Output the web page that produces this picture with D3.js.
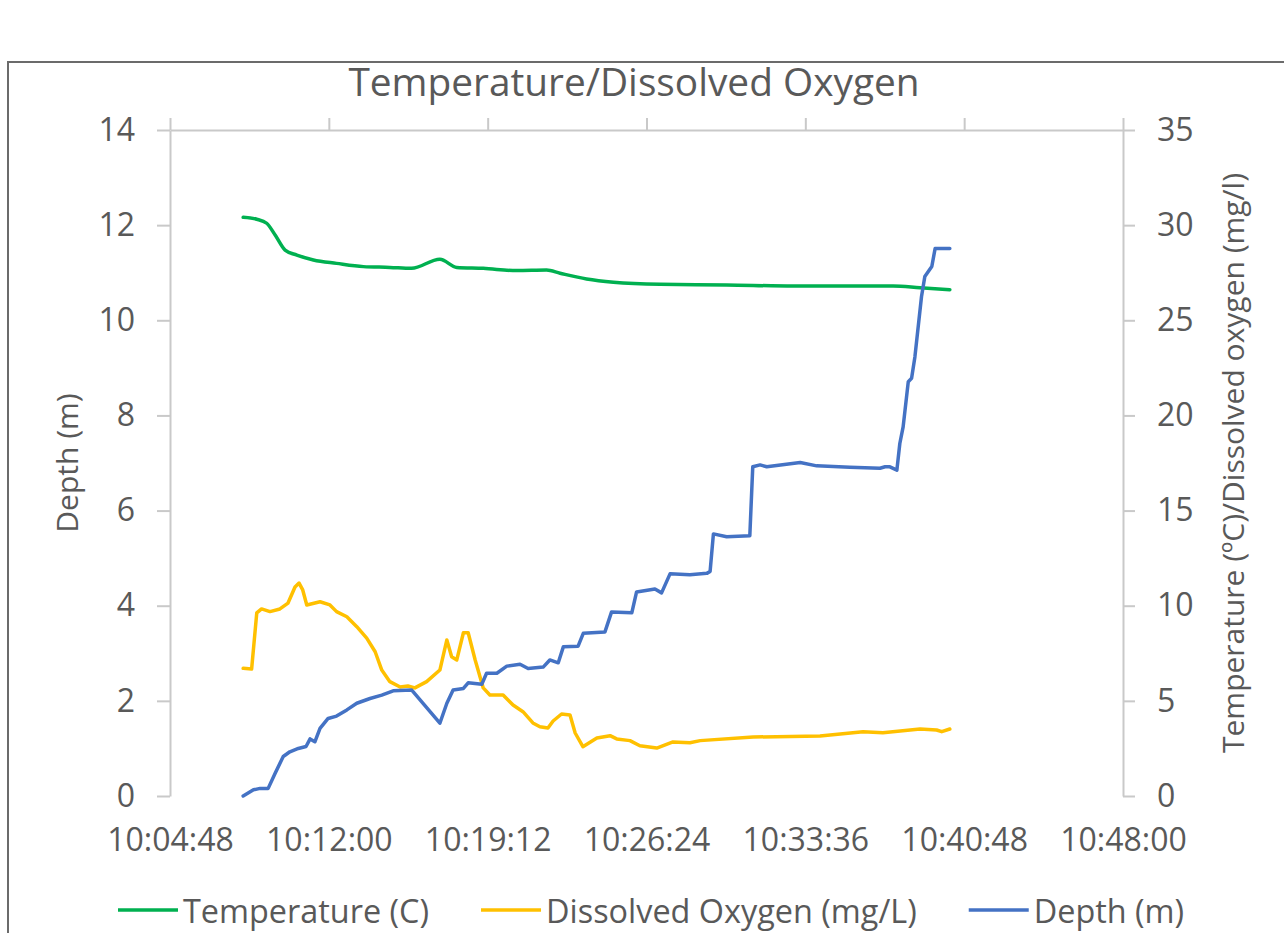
<!DOCTYPE html>
<html><head><meta charset="utf-8">
<script src="https://cdn.jsdelivr.net/npm/d3@7"></script>
<style>
body{margin:0;background:#fff}
text{font-family:'Open Sans',sans-serif;fill:#595959}
</style>
</head><body>
<svg id="chart" width="1284" height="933"></svg>
<script>
// ---------- data ----------
const chartTitle = "Temperature/Dissolved Oxygen";
const xTickLabels = ["10:04:48","10:12:00","10:19:12","10:26:24","10:33:36","10:40:48","10:48:00"];
const leftTicks = [0,2,4,6,8,10,12,14];
const rightTicks = [0,5,10,15,20,25,30,35];
const seriesNames = ["Temperature (C)","Dissolved Oxygen (mg/L)","Depth (m)"];
const seriesColors = ["#00B050","#FFC000","#4472C4"];

const tempTime = ["10:08:07","10:08:44","10:09:11","10:09:34","10:10:01","10:10:33","10:11:18","10:12:21","10:13:34","10:14:46","10:15:45","10:17:02","10:17:48","10:19:00","10:20:31","10:21:52","10:22:29","10:23:41","10:24:54","10:27:01","10:30:02","10:33:03","10:37:35","10:38:48","10:40:09"];
const tempVal = [30.41,30.31,30.10,29.48,28.69,28.43,28.17,27.99,27.82,27.78,27.73,28.21,27.78,27.73,27.61,27.64,27.47,27.17,27.00,26.89,26.86,26.80,26.80,26.71,26.61];

const doTime = ["10:08:07","10:08:30","10:08:44","10:08:57","10:09:20","10:09:47","10:10:09","10:10:28","10:10:39","10:10:49","10:11:00","10:11:36","10:12:03","10:12:21","10:12:49","10:13:16","10:13:43","10:14:06","10:14:24","10:14:46","10:15:14","10:15:35","10:15:54","10:16:26","10:17:02","10:17:21","10:17:34","10:17:48","10:18:06","10:18:19","10:18:38","10:19:00","10:19:18","10:19:54","10:20:21","10:20:48","10:21:15","10:21:34","10:21:56","10:22:10","10:22:33","10:22:56","10:23:10","10:23:31","10:24:09","10:24:45","10:25:03","10:25:39","10:26:06","10:26:52","10:27:36","10:28:22","10:28:50","10:31:14","10:34:16","10:36:13","10:37:07","10:38:48","10:39:33","10:39:47","10:40:09"];
const doVal = [6.71,6.67,9.62,9.83,9.69,9.83,10.14,10.98,11.19,10.83,10.04,10.21,10.04,9.69,9.42,8.90,8.30,7.58,6.62,6.01,5.73,5.78,5.68,6.01,6.62,8.20,7.32,7.15,8.58,8.58,7.15,5.68,5.31,5.31,4.78,4.43,3.84,3.64,3.57,3.94,4.31,4.26,3.31,2.59,3.05,3.17,3.00,2.91,2.64,2.52,2.84,2.80,2.91,3.10,3.15,3.38,3.33,3.52,3.47,3.38,3.52];

const depthTime = ["10:08:07","10:08:35","10:08:53","10:09:15","10:09:34","10:09:56","10:10:14","10:10:37","10:10:58","10:11:09","10:11:22","10:11:36","10:11:58","10:12:21","10:12:49","10:13:16","10:13:52","10:14:24","10:14:55","10:15:45","10:17:02","10:17:21","10:17:38","10:18:06","10:18:19","10:18:56","10:19:09","10:19:37","10:20:04","10:20:40","10:21:02","10:21:43","10:22:01","10:22:24","10:22:38","10:23:18","10:23:32","10:24:31","10:24:49","10:25:44","10:25:57","10:26:47","10:27:05","10:27:28","10:28:22","10:29:08","10:29:17","10:29:26","10:30:02","10:31:05","10:31:13","10:31:33","10:31:51","10:33:22","10:34:07","10:35:37","10:36:59","10:37:13","10:37:26","10:37:45","10:37:53","10:38:02","10:38:16","10:38:25","10:38:34","10:38:52","10:39:01","10:39:10","10:39:20","10:39:29","10:40:09"];
const depthVal = [0.00,0.13,0.16,0.16,0.48,0.83,0.93,1.00,1.04,1.20,1.14,1.42,1.63,1.68,1.81,1.95,2.05,2.12,2.21,2.23,1.53,1.95,2.23,2.26,2.38,2.35,2.58,2.58,2.73,2.77,2.68,2.71,2.86,2.80,3.14,3.15,3.42,3.45,3.87,3.85,4.29,4.35,4.27,4.67,4.65,4.68,4.72,5.51,5.45,5.47,6.92,6.96,6.92,7.01,6.94,6.91,6.89,6.92,6.92,6.85,7.41,7.76,8.71,8.78,9.23,10.50,10.92,11.02,11.13,11.51,11.51];

// ---------- layout ----------
const svg = d3.select("#chart");
const W = 1284, H = 933;
const plot = {left:170, right:1123, top:130, bottom:796};
const parse = d3.timeParse("%H:%M:%S");
const fmt = d3.timeFormat("%H:%M:%S");
const tickDates = xTickLabels.map(parse);

const x = d3.scaleTime().domain([tickDates[0], tickDates[tickDates.length-1]]).range([plot.left, plot.right]);
const yL = d3.scaleLinear().domain([0,14]).range([plot.bottom, plot.top]);
const yR = d3.scaleLinear().domain([0,35]).range([plot.bottom, plot.top]);

const axisColor = "#C9C9C9";
const labelSize = 32;

// frame
svg.append("rect").attr("x",8).attr("y",62).attr("width",W+20).attr("height",H+20)
  .attr("fill","none").attr("stroke","#6b6b6b").attr("stroke-width",2);

// title
svg.append("text").attr("x",634).attr("y",81).attr("text-anchor","middle")
  .attr("dominant-baseline","central").style("font-size","38.8px").text(chartTitle);

function styleAxis(g){
  g.selectAll("path.domain").attr("stroke",axisColor).attr("stroke-width",2);
  g.selectAll(".tick line").attr("stroke",axisColor).attr("stroke-width",2);
  g.selectAll("text").style("font-size",labelSize+"px").attr("fill","#595959").style("font-family","'Open Sans',sans-serif");
}

// top axis line with ticks (no labels)
const gTop = svg.append("g").attr("transform",`translate(0,${plot.top})`)
  .call(d3.axisTop(x).tickValues(tickDates).tickSize(12).tickSizeOuter(0).tickFormat(""));
styleAxis(gTop);

// bottom labels (no line)
const gBot = svg.append("g").attr("transform",`translate(0,${plot.bottom})`)
  .call(d3.axisBottom(x).tickValues(tickDates).tickSize(0).tickPadding(32).tickFormat(fmt));
gBot.select("path.domain").remove();
styleAxis(gBot);

// left axis
const gL = svg.append("g").attr("transform",`translate(${plot.left},0)`)
  .call(d3.axisLeft(yL).tickValues(leftTicks).tickSize(13).tickSizeOuter(0).tickPadding(22));
styleAxis(gL);

// right axis
const gR = svg.append("g").attr("transform",`translate(${plot.right},0)`)
  .call(d3.axisRight(yR).tickValues(rightTicks).tickSize(12).tickSizeOuter(0).tickPadding(22));
styleAxis(gR);

// axis titles
svg.append("text").attr("transform",`translate(66,${(plot.top+plot.bottom)/2}) rotate(-90)`)
  .attr("text-anchor","middle").attr("dominant-baseline","central").style("font-size","30px").text("Depth (m)");
svg.append("text").attr("transform",`translate(1232,${(plot.top+plot.bottom)/2}) rotate(-90)`)
  .attr("text-anchor","middle").attr("dominant-baseline","central").style("font-size","30px").text("Temperature (ºC)/Dissolved oxygen (mg/l)");

// series
const lineR = d3.line().x(d=>x(d.t)).y(d=>yR(d.v)).curve(d3.curveMonotoneX);
const lineRLin = d3.line().x(d=>x(d.t)).y(d=>yR(d.v));
const lineL = d3.line().x(d=>x(d.t)).y(d=>yL(d.v));
const zip = (ts,vs)=>ts.map((t,i)=>({t:parse(t),v:vs[i]}));

const g = svg.append("g").attr("fill","none").attr("stroke-width",3.5)
  .attr("stroke-linejoin","round").attr("stroke-linecap","round");
g.append("path").attr("d",lineR(zip(tempTime,tempVal))).attr("stroke",seriesColors[0]);
g.append("path").attr("d",lineRLin(zip(doTime,doVal))).attr("stroke",seriesColors[1]);
g.append("path").attr("d",lineL(zip(depthTime,depthVal))).attr("stroke",seriesColors[2]);

// legend
const leg = svg.append("g").attr("transform","translate(0,910)");
let lx = 118;
seriesNames.forEach((name,i)=>{
  leg.append("line").attr("x1",lx).attr("x2",lx+60).attr("y1",0).attr("y2",0)
    .attr("stroke",seriesColors[i]).attr("stroke-width",3.5);
  const t = leg.append("text").attr("x",lx+65).attr("y",0).attr("dominant-baseline","central")
    .style("font-size","32.4px").text(name);
  lx += 65 + t.node().getComputedTextLength() + 52;
});
</script>
</body></html>
